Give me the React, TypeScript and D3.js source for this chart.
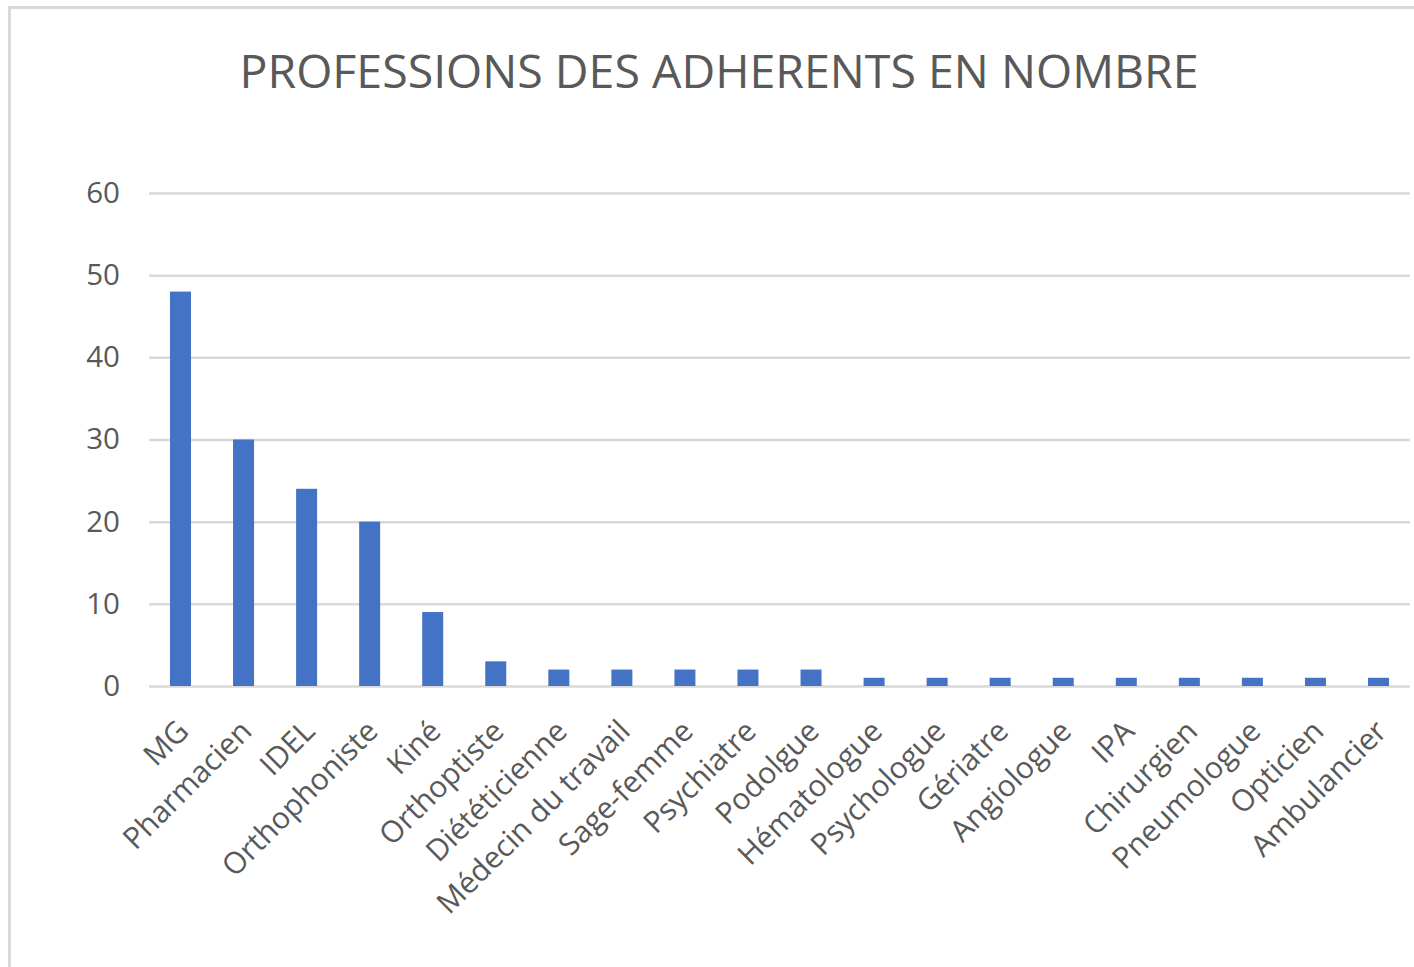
import { useRef, useEffect } from 'react';
import * as d3 from 'd3';

const TITLE = 'PROFESSIONS DES ADHERENTS EN NOMBRE';

const categories = [
  'MG', 'Pharmacien', 'IDEL', 'Orthophoniste', 'Kiné', 'Orthoptiste', 'Diététicienne',
  'Médecin du travail', 'Sage-femme', 'Psychiatre', 'Podolgue', 'Hématologue',
  'Psychologue', 'Gériatre', 'Angiologue', 'IPA', 'Chirurgien', 'Pneumologue',
  'Opticien', 'Ambulancier',
];

const values = [48, 30, 24, 20, 9, 3, 2, 2, 2, 2, 2, 1, 1, 1, 1, 1, 1, 1, 1, 1];

const yTicks = [0, 10, 20, 30, 40, 50, 60];

const FONT = '"Open Sans", "Noto Sans", sans-serif';
const TEXT = '#595959';
const GRID = '#d9d9d9';
const BAR = '#4472c4';

export default function App() {
  const svgRef = useRef<SVGSVGElement>(null);

  useEffect(() => {
    const svg = d3.select(svgRef.current);
    svg.selectAll('*').remove();

    const W = 1414, H = 967;
    const margin = { top: 193, left: 149, right: 4, bottom: 281 };
    const width = W - margin.left - margin.right;
    const height = H - margin.top - margin.bottom;

    // chart frame
    svg.append('rect')
      .attr('x', 9.5).attr('y', 7.5)
      .attr('width', W + 20).attr('height', H + 20)
      .attr('fill', '#fff')
      .attr('stroke', GRID)
      .attr('stroke-width', 3);

    svg.append('text')
      .attr('x', 719).attr('y', 88)
      .attr('text-anchor', 'middle')
      .attr('fill', TEXT)
      .attr('font-family', FONT)
      .attr('font-size', 46.5)
      .text(TITLE);

    const x = d3.scaleBand().domain(categories).range([0, width]).paddingInner(0.667).paddingOuter(0.333);
    const y = d3.scaleLinear().domain([0, 60]).range([height, 0]);

    const g = svg.append('g').attr('transform', `translate(${margin.left},${margin.top})`);

    // grid
    g.append('g')
      .call(d3.axisLeft(y).tickValues(yTicks).tickSize(-width).tickFormat(() => ''))
      .call(sel => sel.select('.domain').remove())
      .call(sel => sel.selectAll('line').attr('stroke', GRID).attr('stroke-width', 2.5));

    // y labels
    g.append('g')
      .call(d3.axisLeft(y).tickValues(yTicks).tickSize(0).tickPadding(29))
      .call(sel => sel.select('.domain').remove())
      .call(sel => sel.selectAll('text')
        .attr('fill', TEXT)
        .attr('font-family', FONT)
        .attr('font-size', 29.5));

    // bars
    g.selectAll('rect.bar')
      .data(values)
      .join('rect')
      .attr('class', 'bar')
      .attr('x', (_, i) => x(categories[i])!)
      .attr('y', d => y(d))
      .attr('width', x.bandwidth())
      .attr('height', d => height - y(d))
      .attr('fill', BAR);

    // x labels
    g.append('g')
      .attr('transform', `translate(0,${height})`)
      .call(d3.axisBottom(x).tickSize(0).tickPadding(0))
      .call(sel => sel.select('.domain').remove())
      .call(sel => sel.selectAll('text')
        .attr('fill', TEXT)
        .attr('font-family', FONT)
        .attr('font-size', 30)
        .attr('text-anchor', 'end')
        .attr('dy', 0)
        .attr('y', 0)
        .attr('transform', 'translate(10,47) rotate(-45)'));
  }, []);

  return (
    <svg ref={svgRef} width={1414} height={967}
      style={{ position: 'absolute', left: 0, top: 0, display: 'block' }} />
  );
}
